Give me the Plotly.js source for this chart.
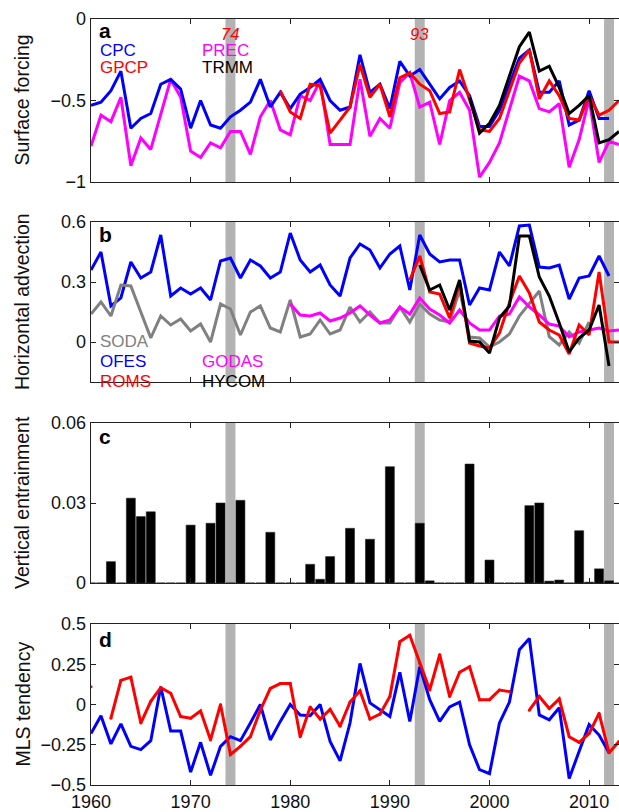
<!DOCTYPE html>
<html>
<head>
<meta charset="utf-8">
<script src="https://cdn.plot.ly/plotly-3.0.1.min.js"></script>
<style>
html,body{margin:0;padding:0;background:#fff;}
#chart{width:619px;height:812px;}
</style>
</head>
<body>
<div id="chart"></div>
<script>
// ---------- data ----------
const years = [1960,1961,1962,1963,1964,1965,1966,1967,1968,1969,
  1970,1971,1972,1973,1974,1975,1976,1977,1978,1979,
  1980,1981,1982,1983,1984,1985,1986,1987,1988,1989,
  1990,1991,1992,1993,1994,1995,1996,1997,1998,1999,
  2000,2001,2002,2003,2004,2005,2006,2007,2008,2009,
  2010,2011,2012,2013];

const eventYears = [1974, 1993, 2012];
const eventLabels = ["74", "93"];

// panel a: surface forcing
const cpc = [-0.53,-0.51,-0.44,-0.32,-0.67,-0.61,-0.58,-0.40,-0.37,-0.43,
  -0.67,-0.50,-0.65,-0.67,-0.60,-0.56,-0.51,-0.37,-0.54,-0.45,
  -0.55,-0.46,-0.42,-0.37,-0.50,-0.56,-0.54,-0.22,-0.45,-0.40,
  -0.55,-0.26,-0.35,-0.31,-0.40,-0.49,-0.42,-0.38,-0.47,-0.66,
  -0.66,-0.56,-0.40,-0.24,-0.19,-0.45,-0.45,-0.38,-0.65,-0.62,
  -0.44,-0.61,-0.61,null];
const gpcp = [null,null,null,null,null,null,null,null,null,null,
  null,null,null,null,null,null,null,null,null,-0.44,
  -0.57,-0.61,-0.40,-0.41,-0.70,-0.62,-0.54,-0.28,-0.48,-0.40,
  -0.60,-0.36,-0.33,-0.40,-0.44,-0.58,-0.57,-0.31,-0.50,-0.68,
  -0.69,-0.61,-0.44,-0.27,-0.19,-0.49,-0.38,-0.47,-0.61,-0.62,
  -0.47,-0.59,-0.56,-0.50];
const prec = [-0.78,-0.59,-0.63,-0.48,-0.90,-0.73,-0.80,-0.58,-0.37,-0.48,
  -0.81,-0.85,-0.76,-0.79,-0.69,-0.69,-0.83,-0.60,-0.50,-0.68,
  -0.71,-0.47,-0.50,-0.38,-0.77,-0.77,-0.77,-0.37,-0.72,-0.61,
  -0.67,-0.39,-0.33,-0.54,-0.51,-0.77,-0.50,-0.45,-0.56,-0.97,
  -0.88,-0.76,-0.56,-0.35,-0.38,-0.55,-0.57,-0.52,-0.91,-0.74,
  -0.49,-0.88,-0.75,-0.77];
const trmm = [null,null,null,null,null,null,null,null,null,null,
  null,null,null,null,null,null,null,null,null,null,
  null,null,null,null,null,null,null,null,null,null,
  null,null,null,null,null,null,null,null,-0.48,-0.70,
  -0.64,-0.53,-0.35,-0.17,-0.08,-0.32,-0.29,-0.42,-0.58,-0.53,
  -0.47,-0.76,-0.74,-0.69];

// panel b: horizontal advection
const ofes = [0.36,0.45,0.18,0.22,0.40,0.32,0.35,0.535,0.23,0.27,
  0.24,0.27,0.21,0.405,0.42,0.32,0.41,0.38,0.32,0.35,
  0.545,0.41,0.35,0.385,0.285,0.23,0.42,0.49,0.46,0.37,
  0.44,0.48,0.26,0.535,0.44,0.40,0.41,0.41,0.185,0.27,
  0.26,0.45,0.38,0.58,0.585,0.375,0.37,0.385,0.215,0.32,
  0.33,0.43,0.33,null];
const soda = [0.14,0.20,0.13,0.285,0.28,0.15,0.02,0.13,0.085,0.115,
  0.055,0.09,0.0,0.19,0.165,0.035,0.15,0.18,0.07,0.05,
  0.21,0.025,0.04,0.11,0.04,0.06,0.175,0.10,0.15,0.095,
  0.095,0.175,0.10,0.19,0.14,0.11,0.10,0.26,0.025,0.02,
  -0.025,0.0,0.04,0.13,0.19,0.255,0.027,-0.015,0.05,-0.005,
  0.10,null,null,null];
const godas = [null,null,null,null,null,null,null,null,null,null,
  null,null,null,null,null,null,null,null,null,null,
  0.19,0.135,0.13,0.145,0.105,0.12,0.145,0.18,0.135,0.095,
  0.11,0.175,0.14,0.22,0.165,0.135,0.095,0.16,0.095,0.06,
  0.06,0.13,0.14,0.225,0.175,0.135,0.09,0.08,0.025,0.05,
  0.06,0.07,0.055,0.06];
const roms = [null,null,null,null,null,null,null,null,null,null,
  null,null,null,null,null,null,null,null,null,null,
  null,null,null,null,null,null,null,null,null,null,
  null,null,0.31,0.43,0.25,0.24,0.12,0.30,-0.005,-0.02,
  -0.03,0.045,0.195,0.33,0.245,0.10,0.06,0.035,-0.06,0.085,
  0.035,0.35,0.0,0.0];
const hycom = [null,null,null,null,null,null,null,null,null,null,
  null,null,null,null,null,null,null,null,null,null,
  null,null,null,null,null,null,null,null,null,null,
  null,null,null,0.385,0.26,0.285,0.16,0.31,0.005,0.0,
  -0.055,0.12,0.18,0.53,0.53,0.325,0.23,0.095,-0.05,0.02,
  0.06,0.185,-0.12,null];

// panel c: vertical entrainment
const entrain = [0,0,0.008,0,0.0318,0.0249,0.0267,0,0,0,
  0.0217,0,0.0224,0.030,0,0.031,0,0,0.019,0,
  0,0,0.007,0.0014,0.0099,0,0.0205,0,0.0164,0,
  0.0436,0,0,0.0224,0.0008,0,0,0,0.0446,0,
  0.0086,0,0,0,0.029,0.030,0.0007,0.0011,0,0.0196,
  0.0003,0.0053,0.0008,0];

// panel d: MLS tendency
const mlsBlue = [-0.18,-0.07,-0.245,-0.12,-0.26,-0.28,-0.225,0.11,-0.165,-0.165,
  -0.42,-0.235,-0.44,-0.26,-0.20,-0.225,-0.115,0.0,-0.22,-0.105,
  0.0,-0.065,-0.07,0.0,-0.23,-0.35,-0.115,0.255,0.01,-0.035,
  -0.075,0.20,-0.105,0.235,0.03,-0.105,-0.015,0.015,-0.25,-0.405,
  -0.43,-0.115,0.015,0.34,0.41,-0.065,-0.095,-0.02,-0.46,-0.29,
  -0.125,-0.19,-0.30,null];
const mlsRed = [0.11,null,-0.085,0.15,0.17,-0.115,0.02,0.105,0.07,-0.075,
  -0.085,-0.04,-0.22,0.0,-0.31,-0.26,-0.20,-0.035,0.10,0.13,
  0.13,-0.20,-0.015,-0.09,-0.03,-0.135,0.015,0.085,-0.09,-0.06,
  0.05,0.39,0.43,0.255,0.09,0.31,0.05,0.20,0.235,0.03,
  0.03,0.09,0.08,null,-0.035,0.05,-0.025,0.035,-0.20,-0.235,
  -0.18,-0.055,-0.30,-0.23];

// axis labels
const xTicks = [1960,1970,1980,1990,2000,2010];
const yTitles = ["Surface forcing","Horizontal advection","Vertical entrainment","MLS tendency"];
const panelLetters = ["a","b","c","d"];

// ---------- style ----------
const FONT = "Liberation Sans, Arial, Helvetica, sans-serif";
const BLUE = "#0000ff", RED = "#ff0000", MAG = "#ff00ff", BLK = "#000000", GRY = "#808080";
const LW = 3;
const H = 812;
const domainsPx = [[19,182],[222,382],[423,583],[624,785]];
const domains = domainsPx.map(d => [1 - d[1]/H, 1 - d[0]/H]);

function line(y, color, ax, extra) {
  return Object.assign({x: years, y: y, type: "scatter", mode: "lines",
    line: {color: color, width: LW}, xaxis: "x" + ax, yaxis: "y" + ax,
    connectgaps: false, hoverinfo: "skip"}, extra || {});
}

const traces = [
  line(prec, MAG, ""), line(cpc, BLUE, ""), line(gpcp, RED, ""), line(trmm, BLK, ""),
  line(ofes, BLUE, "2"), line(soda, GRY, "2"), line(godas, MAG, "2"), line(roms, RED, "2"), line(hycom, BLK, "2"),
  {x: years, y: entrain, type: "bar", width: 0.9, xaxis: "x3", yaxis: "y3",
   marker: {color: "#000", line: {color: "#222", width: 0.6}}, hoverinfo: "skip"},
  line(mlsBlue, BLUE, "4"),
  line(mlsRed, RED, "4", {mode: "lines+markers", marker: {color: RED, size: 3}})
];

function xa(i, showLabels) {
  return {domain: [0,1], anchor: "y" + (i===1?"":i), range: [1960, 2013],
    tickvals: xTicks, ticktext: xTicks.map(String), showticklabels: showLabels,
    ticks: "inside", ticklen: 5, tickwidth: 1, tickcolor: "#222",
    showline: true, mirror: "ticks", linecolor: "#222", linewidth: 1.3,
    showgrid: false, zeroline: false,
    tickfont: {family: FONT, size: 18, color: "#111"}};
}
function ya(i, range, vals, texts) {
  return {domain: domains[i-1], anchor: "x" + (i===1?"":i), range: range,
    tickvals: vals, ticktext: texts,
    ticks: "inside", ticklen: 5, tickwidth: 1, tickcolor: "#222",
    showline: true, mirror: "ticks", linecolor: "#222", linewidth: 1.3,
    showgrid: false, zeroline: false,
    tickfont: {family: FONT, size: 18, color: "#111"}};
}

const shapes = [];
[1,2,3,4].forEach(i => {
  const s = i===1 ? "" : String(i);
  eventYears.forEach(yr => {
    shapes.push({type: "rect", xref: "x" + s, yref: "y" + s + " domain",
      x0: yr - 0.5, x1: yr + 0.5, y0: 0, y1: 1, fillcolor: "#b3b3b3",
      line: {width: 0}, layer: "below"});
  });
});

const ann = [];
function label(text, x, y, color, ax, size, extra) {
  ann.push(Object.assign({text: text, x: x, y: y, xref: "x" + ax, yref: "y" + ax,
    xanchor: "left", yanchor: "middle", showarrow: false, borderpad: 0,
    font: {family: FONT, size: size || 17, color: color}}, extra || {}));
}
// y titles
yTitles.forEach((t, i) => {
  ann.push({text: t, xref: "paper", yref: "paper", x: (22 - 91)/528,
    y: (domains[i][0] + domains[i][1]) / 2, xanchor: "center", yanchor: "middle",
    textangle: -90, showarrow: false, font: {family: FONT, size: 19.5, color: "#111"}});
});
// panel letters
const letterY = [-0.07, 0.54, 0.0548, 0.405];
panelLetters.forEach((l, i) => {
  label("<b>" + l + "</b>", 1960.7, letterY[i], "#000", i===0 ? "" : String(i+1), 21);
});
// event labels
eventLabels.forEach((t, i) => {
  label("<i>" + t + "</i>", eventYears[i], -0.09, RED, "", 16.5, {xanchor: "center"});
});
// panel a legend
label("CPC", 1960.8, -0.195, BLUE, "");
label("GPCP", 1960.8, -0.295, RED, "");
label("PREC", 1971.0, -0.195, MAG, "");
label("TRMM", 1971.0, -0.295, BLK, "");
// panel b legend
label("SODA", 1960.8, 0.005, GRY, "2");
label("OFES", 1960.8, -0.098, BLUE, "2");
label("ROMS", 1960.8, -0.197, RED, "2");
label("GODAS", 1971.0, -0.098, MAG, "2");
label("HYCOM", 1971.0, -0.197, BLK, "2");

const layout = {
  width: 619, height: 812,
  margin: {l: 91, r: 0, t: 0, b: 0},
  paper_bgcolor: "#fff", plot_bgcolor: "#fff",
  showlegend: false, bargap: 0,
  font: {family: FONT, color: "#111"},
  xaxis: xa(1, false), xaxis2: xa(2, false), xaxis3: xa(3, false), xaxis4: xa(4, true),
  yaxis: ya(1, [-1, 0], [-1, -0.5, 0], ["\u22121", "\u22120.5", "0"]),
  yaxis2: ya(2, [-0.2, 0.6], [0, 0.3, 0.6], ["0", "0.3", "0.6"]),
  yaxis3: ya(3, [0, 0.06], [0, 0.03, 0.06], ["0", "0.03", "0.06"]),
  yaxis4: ya(4, [-0.5, 0.5], [-0.5, -0.25, 0, 0.25, 0.5], ["\u22120.5", "\u22120.25", "0", "0.25", "0.5"]),
  shapes: shapes,
  annotations: ann
};

Plotly.newPlot("chart", traces, layout, {staticPlot: true, displayModeBar: false});
</script>
</body>
</html>
